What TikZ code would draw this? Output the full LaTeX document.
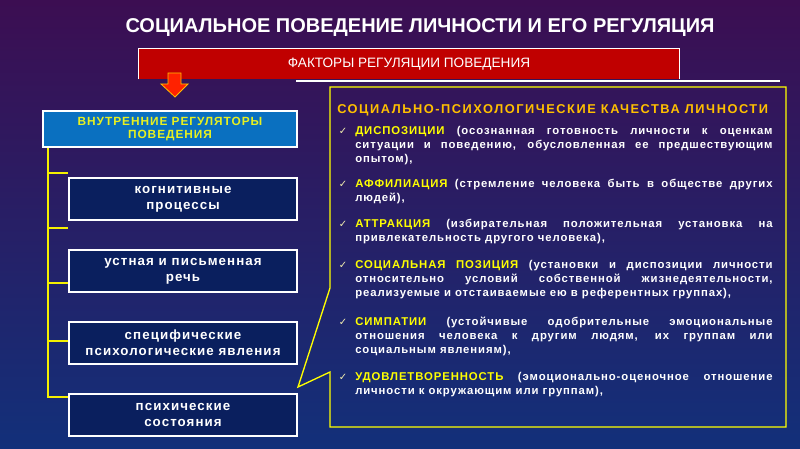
\documentclass[tikz,border=0pt]{standalone}
\usepackage{fontspec}
\setmainfont{Liberation Sans}
\newfontfamily\widefont[LetterSpace=8]{Liberation Sans}
\newfontfamily\headfont[LetterSpace=12]{Liberation Sans}
\newfontfamily\checkfont{DejaVu Sans}
\usepackage{xcolor}

\definecolor{bgtop}{HTML}{3C0E52}
\definecolor{bgmid}{HTML}{2E1F74}
\definecolor{bgbot}{HTML}{12307A}
\definecolor{boxblue}{HTML}{0A1F5E}
\definecolor{hdrblue}{HTML}{0A70C0}
\definecolor{factred}{HTML}{C00000}
\definecolor{arrowred}{HTML}{FF2200}
\definecolor{lineyel}{HTML}{F5F000}
\definecolor{hdryel}{HTML}{E8F020}
\definecolor{headorange}{HTML}{FFC000}
\definecolor{itemyel}{HTML}{FFFF00}
\definecolor{chkcol}{HTML}{F4F0B0}

\newcommand{\lab}[1]{\textcolor{itemyel}{#1}}
\newcommand{\chk}{\llap{\checkfont\fontsize{7.5}{7.5}\selectfont\textcolor{chkcol}{✓}\hspace{6pt}}}

\begin{document}
\begin{tikzpicture}[x=0.75pt,y=-0.75pt,
    regbox/.style={draw=white, line width=1.5pt, fill=boxblue, text=white, align=center,
        minimum width=171pt, minimum height=31.5pt, inner sep=0pt,
        font=\widefont\bfseries\fontsize{10}{12}\selectfont},
    tree/.style={lineyel, line width=2.2pt},
    item/.style={anchor=base west, inner sep=0pt, text width=313pt, align=justify, text=white,
        font=\widefont\bfseries\fontsize{8.5}{10.5}\selectfont}]
    % background
    \shade[top color=bgtop, middle color=bgmid, bottom color=bgbot] (0,0) rectangle (800,449);
    \useasboundingbox (0,0) rectangle (800,449);

    % title
    \node[text=white, font=\bfseries\fontsize{15}{17}\selectfont] (title) at (420,28)
        {СОЦИАЛЬНОЕ ПОВЕДЕНИЕ ЛИЧНОСТИ И ЕГО РЕГУЛЯЦИЯ};

    % factors bar
    \node[fill=factred, minimum width=405pt, minimum height=22.5pt, inner sep=0pt,
        text=white, font=\fontsize{10.2}{12}\selectfont] (fact) at (409,64)
        {ФАКТОРЫ РЕГУЛЯЦИИ ПОВЕДЕНИЯ};
    \draw[white, line width=1pt] (fact.south west) -- (fact.north west) -- (fact.north east) -- (fact.south east);
    \draw[white, line width=1pt] (296,81) -- (780,81);

    % block arrow
    \filldraw[fill=arrowred, draw=headorange, line width=0.6pt]
        (168,73) -- (181,73) -- (181,84) -- (188,84) -- (175,97) -- (161,84) -- (168,84) -- cycle;

    % inner regulators
    \node[draw=white, line width=1.5pt, fill=hdrblue, text=hdryel, align=center,
        minimum width=190.5pt, minimum height=27pt, inner sep=0pt,
        font=\widefont\bfseries\fontsize{8.9}{10}\selectfont] (hdr) at (170,129)
        {ВНУТРЕННИЕ РЕГУЛЯТОРЫ\\ПОВЕДЕНИЯ};
    \node[regbox] (b1) at (183,199) {когнитивные\\процессы};
    \node[regbox] (b2) at (183,271) {устная и письменная\\речь};
    \node[regbox] (b3) at (183,343) {специфические\\психологические явления};
    \node[regbox] (b4) at (183,415) {психические\\состояния};

    % tree
    \path (48,173) coordinate (k1) (48,228) coordinate (k2) (48,283) coordinate (k3)
        (48,341) coordinate (k4) (48,397) coordinate (k5);
    \draw[tree] (k1 |- hdr.south) -- (k5) -- (k5 -| b4.west);
    \draw[tree] (k1) -- (k1 -| b1.west);
    \draw[tree] (k2) -- (k2 -| b1.west);
    \draw[tree] (k3) -- (k3 -| b2.west);
    \draw[tree] (k4) -- (k4 -| b3.west);

    % qualities panel
    \draw[itemyel, line width=1pt] (330,87) -- (786,87) -- (786,427) -- (330,427)
        -- (330,372) -- (298,387) -- (330,288) -- cycle;
    \node[anchor=base west, inner sep=0pt, text=headorange,
        font=\headfont\bfseries\fontsize{9.6}{11}\selectfont] (qhead) at (337,114)
        {СОЦИАЛЬНО-ПСИХОЛОГИЧЕСКИЕ КАЧЕСТВА ЛИЧНОСТИ};
    \node[item] (q1) at (355,135) {\chk\lab{ДИСПОЗИЦИИ} (осознанная готовность личности к оценкам\linebreak
        ситуации и поведению, обусловленная ее предшествующим\linebreak опытом),};
    \node[item] (q2) at (355,188) {\chk\lab{АФФИЛИАЦИЯ} (стремление человека быть в обществе других\linebreak людей),};
    \node[item] (q3) at (355,228) {\chk\lab{АТТРАКЦИЯ} (избирательная положительная установка на\linebreak
        привлекательность другого человека),};
    \node[item] (q4) at (355,268) {\chk\lab{СОЦИАЛЬНАЯ ПОЗИЦИЯ} (установки и диспозиции личности\linebreak
        относительно условий собственной жизнедеятельности,\linebreak
        реализуемые и отстаиваемые ею в референтных группах),};
    \node[item] (q5) at (355,325) {\chk\lab{СИМПАТИИ} (устойчивые одобрительные эмоциональные\linebreak
        отношения человека к другим людям, их группам или\linebreak социальным явлениям),};
    \node[item] (q6) at (355,380) {\chk\lab{УДОВЛЕТВОРЕННОСТЬ} (эмоционально-оценочное отношение\linebreak
        личности к окружающим или группам),};
\end{tikzpicture}
\end{document}
